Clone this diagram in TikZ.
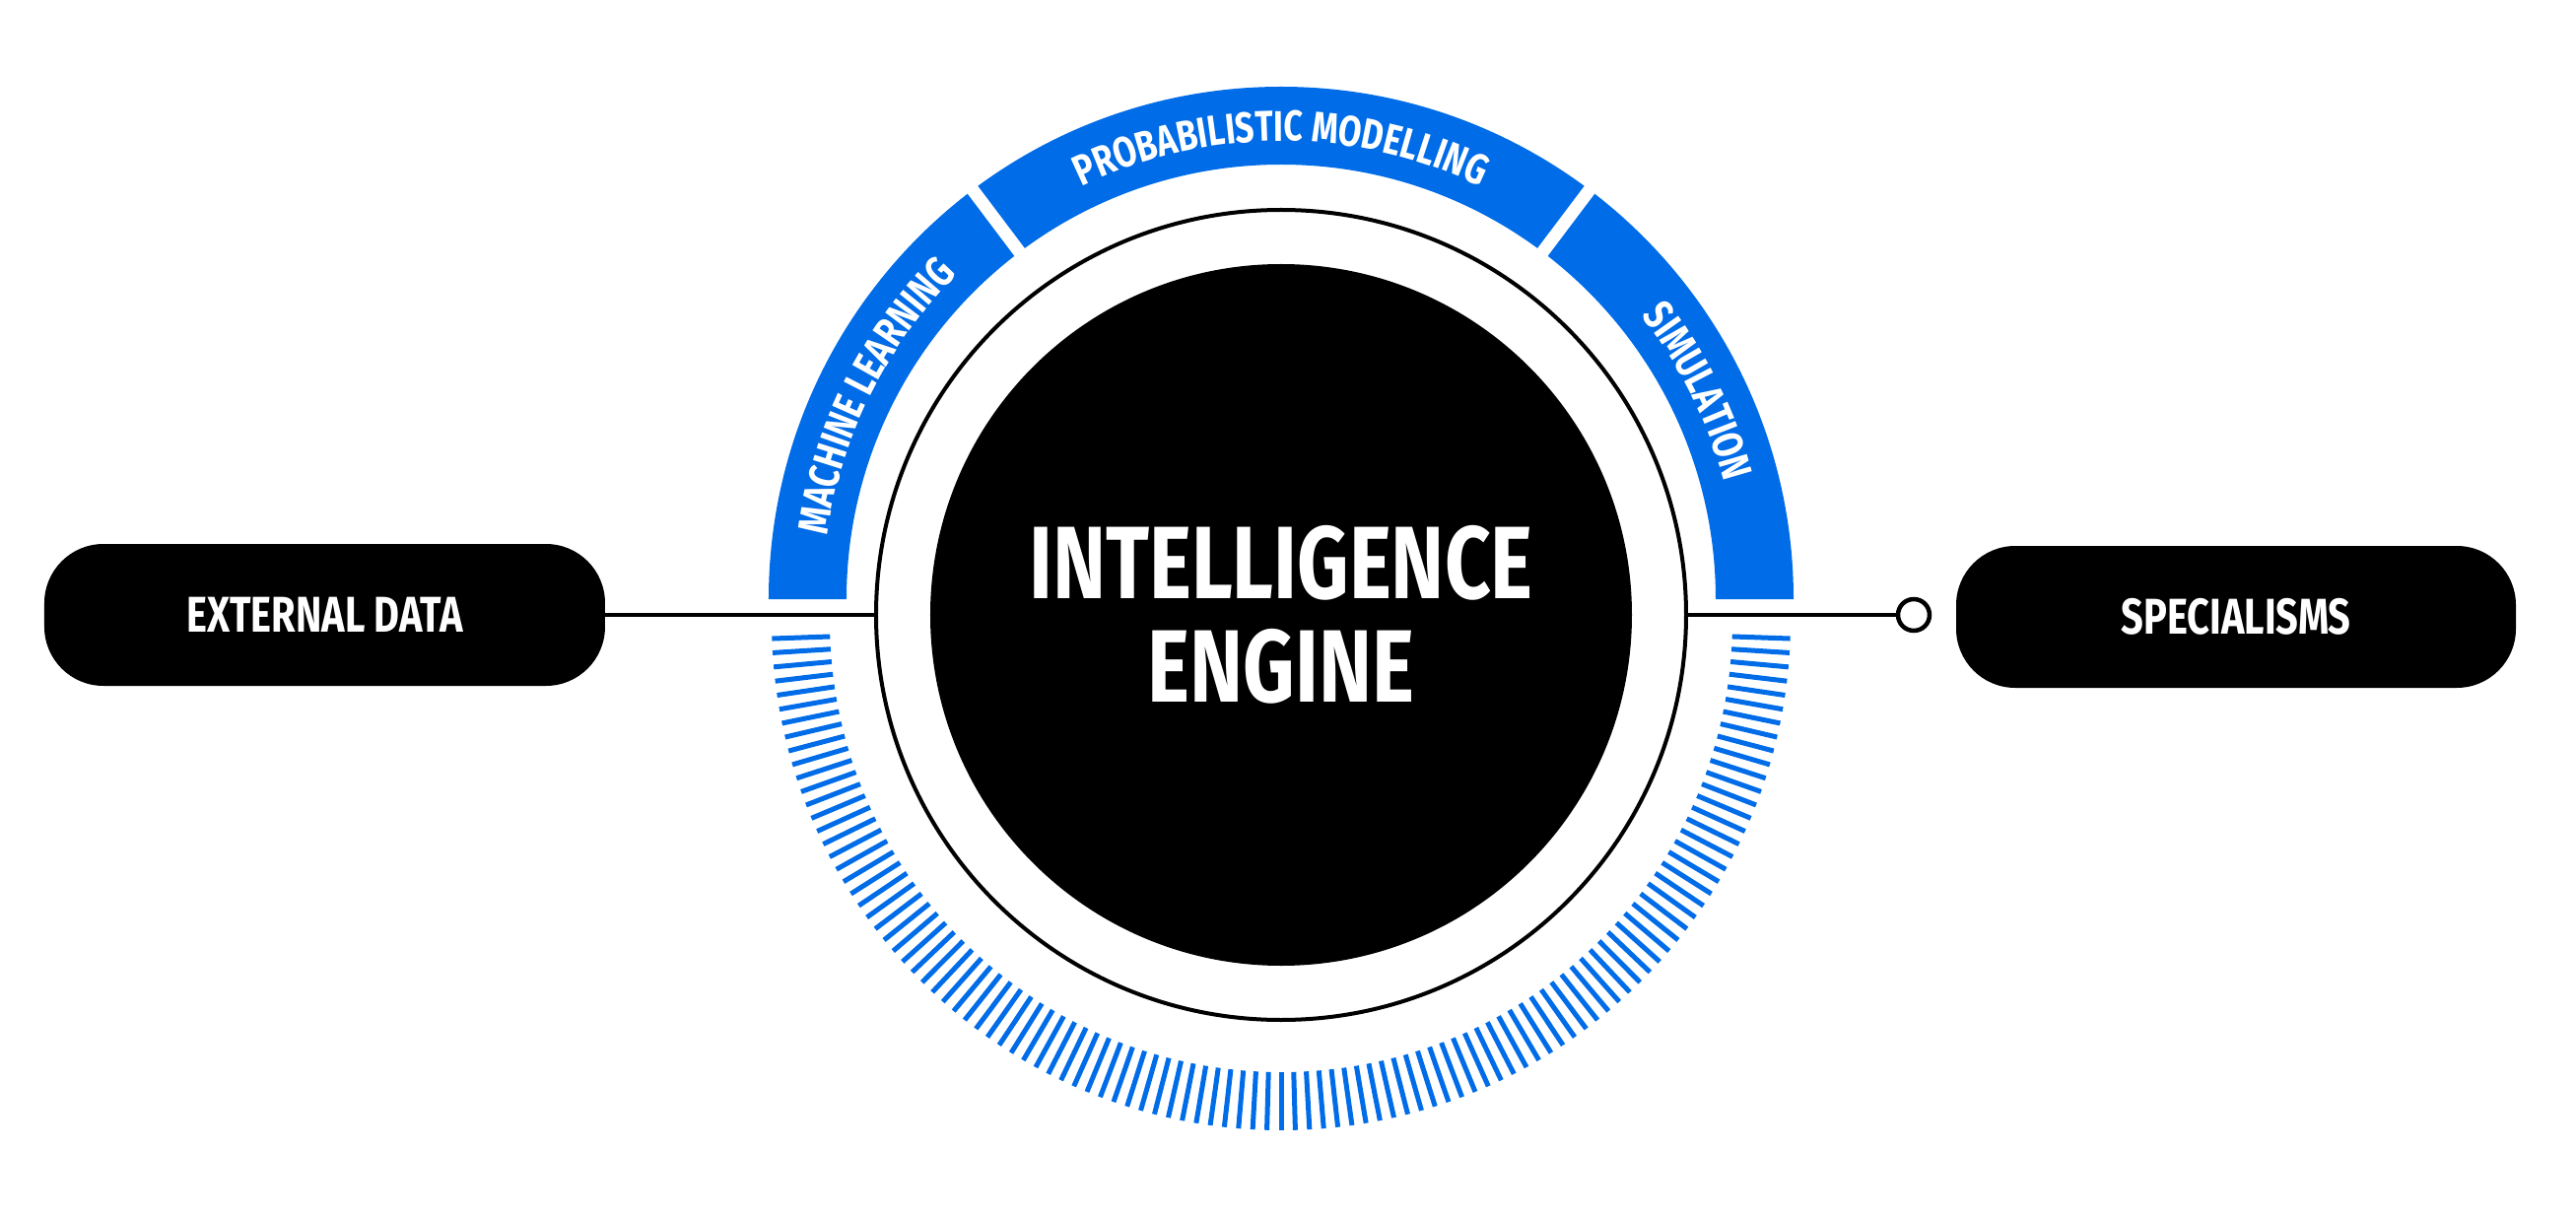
\documentclass[tikz,border=0pt]{standalone}
\usepackage{fontspec}
\usetikzlibrary{decorations.text}
\newfontfamily\oswfont{Fira Sans}[FakeStretch=0.78]
\definecolor{bandblue}{HTML}{006CE8}
\begin{document}
\begin{tikzpicture}[x=1pt,y=1pt,
  pill/.style={rectangle, rounded corners=60pt, fill=black, minimum width=569pt, minimum height=144pt, inner sep=0pt, outer sep=0pt, text=white, font=\oswfont\bfseries\fontsize{51}{56}\selectfont},
  link/.style={line width=4.5pt, black},
  tickmark/.style={line width=5pt, bandblue},
  gapline/.style={line width=13pt, white},
  arctext/.style={decorate, decoration={text along path, text align=center, text color=white, text={|\oswfont\bfseries\fontsize{43.5}{48}\selectfont|#1}}}
]
\useasboundingbox (-1300,-610) rectangle (1314,624);
% blue band (its centre sits slightly above the core's centre)
\begin{scope}[shift={(0,16)}]
\fill[bandblue] (0:520) arc[start angle=0, end angle=180, radius=520] -- (180:441) arc[start angle=180, end angle=0, radius=441] -- cycle;
\draw[gapline] (53:430) -- (53:530);
\draw[gapline] (127:430) -- (127:530);
\path[arctext=PROBABILISTIC MODELLING] (127:465) arc[start angle=127, end angle=53, radius=465];
\path[arctext=MACHINE LEARNING] (180:465) arc[start angle=180, end angle=127, radius=465];
\path[arctext=SIMULATION] (53:465) arc[start angle=53, end angle=0, radius=465];
\end{scope}
% ticks (centre slightly below the core's centre)
\begin{scope}[shift={(0,-6)}]
\foreach \k in {0,...,110} \draw[tickmark] ({182+1.6*\k}:458) -- ({182+1.6*\k}:517);
\end{scope}
% core
\node[circle, draw=black, line width=4pt, minimum size=822pt, inner sep=0pt, outer sep=0pt] (ring) at (0,0) {};
\node[circle, fill=black, minimum size=712pt, inner sep=0pt, text=white, align=center, font=\oswfont\bfseries\fontsize{104.5}{105}\selectfont] (core) at (0,0) {INTELLIGENCE\\ENGINE};
% pills
\node[pill] (ext) at (-970.5,0) {EXTERNAL DATA};
\node[pill, minimum width=568pt] (spec) at (969,-2) {SPECIALISMS};
\node[circle, draw=black, fill=white, line width=4.5pt, minimum size=32pt, inner sep=0pt, outer sep=0pt] (dot) at (642,0) {};
\draw[link] (ext.east) -- (ring.west);
\draw[link] (ring.east) -- (dot.west);
\end{tikzpicture}
\end{document}
